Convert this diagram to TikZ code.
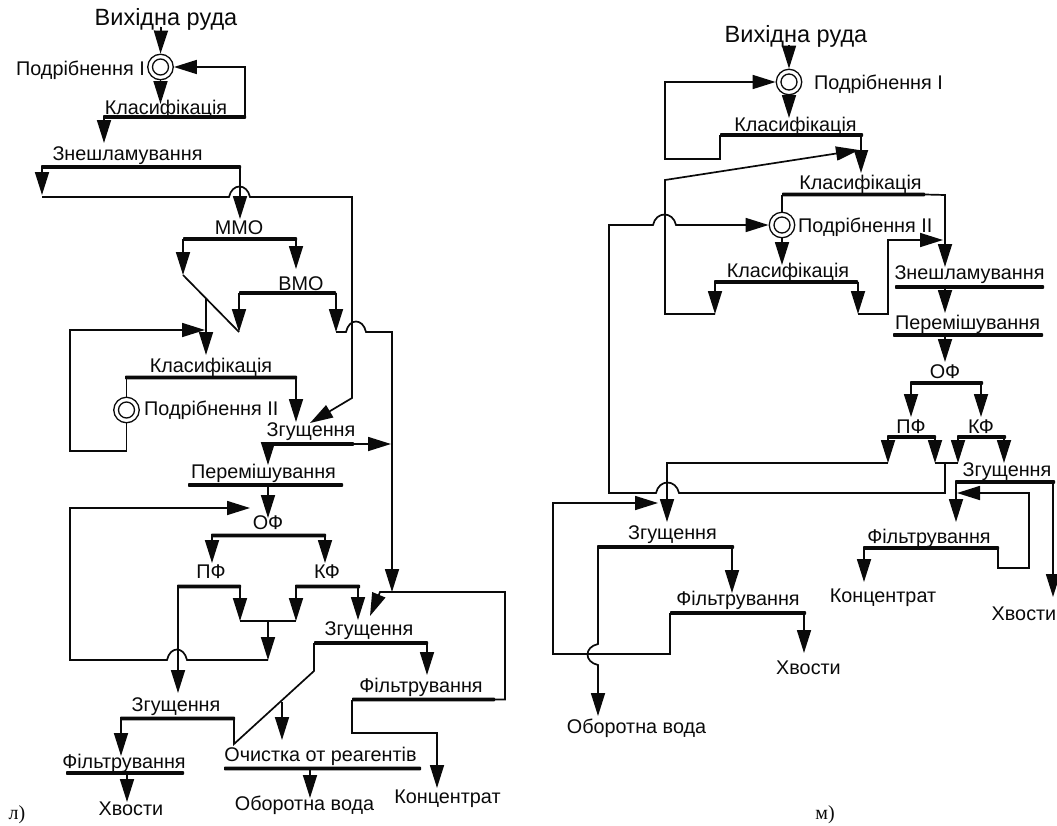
\documentclass[tikz,border=0pt]{standalone}
\usepackage{fontspec}
\setmainfont{Liberation Sans}
\newfontfamily\serifcyr{Liberation Serif}
\usetikzlibrary{arrows.meta}
\definecolor{ink}{HTML}{0A0A0A}
\tikzset{
  lab/.style={anchor=mid,inner sep=0pt,yshift=-4pt,text=ink,font=\fontsize{19.8}{22}\selectfont},
  ttl/.style={lab,font=\fontsize{23.5}{26}\selectfont},
  ser/.style={anchor=mid,inner sep=0pt,yshift=-4pt,text=ink,font=\serifcyr\fontsize{20}{22}\selectfont},
  barbox/.style={rectangle,fill=ink,inner sep=0pt,minimum height=3.8pt,rounded corners=0.8pt},
  wire/.style={draw=ink,line width=1.7pt},
  arr/.style={wire,-{Triangle[length=23pt,width=14pt]}},
  mill/.style={circle,draw=ink,line width=1.3pt,fill=white,inner sep=0pt,minimum size=25.5pt,
    path picture={\draw[ink,line width=1.3pt] (path picture bounding box.center) circle[radius=8pt];}},
}
\newcommand{\barn}[4]{\node[barbox,minimum width={(#3-(#2))*1pt}] (#1) at ({(#2+#3)/2},#4) {};}
\newcommand{\pt}[3]{\coordinate (#1) at (#2,#3);}
\newcommand{\hop}{.. controls +(3,-14) and +(-3,-14) ..}
\begin{document}
\begin{tikzpicture}[x=1pt,y=-1pt]
\useasboundingbox (0,0) rectangle (1057,825);
% ---------- left scheme ----------
\node[ttl] (lT) at (166,19) {Вихідна руда};
\node[mill] (lM1) at (160.5,67) {};
\node[lab,anchor=mid east] (lM1t) at (145,69) {Подрібнення I};
\node[lab] (lK1t) at (166,108) {Класифікація};
\barn{lK1}{103}{246}{117}
\node[lab] (lZt) at (127.5,154) {Знешламування};
\barn{lZ}{41}{241}{167}
\node[lab] (lMMt) at (239,228) {ММО};
\barn{lMM}{183}{297}{239}
\node[lab] (lVMt) at (301,284) {ВМО};
\barn{lVM}{239}{336}{293}
\node[lab] (lK2t) at (211,366) {Класифікація};
\barn{lK2}{125}{297}{377.5}
\node[mill] (lM2) at (126.5,410) {};
\node[lab,anchor=mid west] (lM2t) at (144,409) {Подрібнення II};
\node[lab] (lG1t) at (311,430) {Згущення};
\barn{lG1}{267}{354}{444}
\node[lab] (lPt) at (263.5,472) {Перемішування};
\barn{lP}{188}{343}{485}
\node[lab] (lOt) at (268,523) {ОФ};
\barn{lO}{211}{326}{535.5}
\node[lab] (lPFt) at (211,572) {ПФ};
\barn{lPF}{177}{241}{586.5}
\node[lab] (lKFt) at (327,572) {КФ};
\barn{lKF}{295}{360}{586.5}
\node[lab] (lG2t) at (369,629) {Згущення};
\barn{lG2}{314}{428}{643}
\node[lab] (lF1t) at (421,686) {Фільтрування};
\barn{lF1}{352}{495}{699.5}
\node[lab] (lG3t) at (176,705) {Згущення};
\barn{lG3}{120}{235}{718.5}
\node[lab] (lF2t) at (124,762) {Фільтрування};
\barn{lF2}{66}{184}{773}
\node[lab] (lOCt) at (320.5,755) {Очистка от реагентів};
\barn{lOC}{224}{421}{768.5}
\node[lab] (lHv) at (131,809) {Хвости};
\node[lab] (lOB) at (304.5,804) {Оборотна вода};
\node[lab] (lKN) at (447.5,797) {Концентрат};
\node[ser] (lL) at (17,813) {л)};
% points
\pt{a1}{161}{27}\pt{a2}{161}{53}
\draw[arr] (a1) -- (lM1.north);
\draw[arr] (lM1.south) -- (lM1.south |- 0,104);
\pt{a3}{245}{67}
\draw[arr] (a3 |- lK1) -- (a3) -- (lM1.east);
\pt{a4}{104}{143}
\draw[arr] (a4 |- lK1) -- (a4);
\pt{a5}{42}{195}\pt{a6}{240}{219}
\draw[arr] (a5 |- lZ) -- (a5);
\draw[arr] (a6 |- lZ) -- (a6);
\pt{b1}{42}{197}\pt{b2}{229}{197}\pt{b3}{250}{197}\pt{b4}{352}{197}\pt{b5}{352}{398}\pt{b6}{310}{423}
\draw[arr] (b1) -- (b2) \hop (b3) -- (b4) -- (b5) -- (b6);
\pt{c1}{183}{275}\pt{c2}{296}{269}\pt{c3}{239}{332}\pt{c4}{206}{298}\pt{c5}{206}{355}
\draw[arr] (c1 |- lMM) -- (c1);
\draw[arr] (c2 |- lMM) -- (c2);
\draw[wire] (c1) -- (c3);
\draw[arr] (c4) -- (c5);
\draw[arr] (c3 |- lVM) -- (c3);
\pt{d1}{336}{332}\pt{d2}{346}{332}\pt{d3}{366}{332}\pt{d4}{392}{332}\pt{d5}{392}{592}
\draw[arr] (d1 |- lVM) -- (d1);
\draw[arr] (d1) -- (d2) \hop (d3) -- (d4) -- (d5);
\pt{e1}{70}{330}\pt{e2}{205}{330}\pt{e3}{70}{451}\pt{e4}{126.5}{451}
\draw[arr] (lM2.south) -- (e4) -- (e3) -- (e1) -- (e2);
\draw[wire] (lM2.north |- lK2) -- (lM2.north);
\pt{e5}{296}{422}
\draw[arr] (e5 |- lK2) -- (e5);
\pt{f1}{391}{444}\pt{f2}{268}{465}
\draw[arr] (lG1.east) -- (f1);
\draw[arr] (f2 |- lG1) -- (f2);
\pt{f3}{268}{518}
\draw[arr] (f3 |- lP) -- (f3);
\pt{g1}{250}{508}\pt{g2}{70}{508}\pt{g3}{70}{660}\pt{g4}{167}{660}\pt{g5}{187}{660}\pt{g6}{268}{660}\pt{g7}{268}{621}
\draw[arr] (g6) -- (g5) .. controls +(-3,-14) and +(3,-14) .. (g4) -- (g3) -- (g2) -- (g1);
\draw[arr] (g7) -- (g6);
\pt{h1}{212}{563}\pt{h2}{325}{563}
\draw[arr] (h1 |- lO) -- (h1);
\draw[arr] (h2 |- lO) -- (h2);
\pt{i1}{240}{621}\pt{i2}{296}{621}\pt{i3}{358}{620}\pt{i4}{178}{693}
\draw[arr] (i1 |- lPF) -- (i1);
\draw[arr] (i2 |- lKF) -- (i2);
\draw[arr] (i3 |- lKF) -- (i3);
\draw[arr] (i4 |- lPF) -- (i4);
\draw[wire] (i1) -- (i2);
\pt{j1}{505}{699.5}\pt{j2}{505}{592}\pt{j3}{380}{592}\pt{j4}{370}{616}
\draw[arr] (lF1.east) -- (j1) -- (j2) -- (j3) -- (j4);
\pt{k1}{427}{675}
\draw[arr] (k1 |- lG2) -- (k1);
\pt{m1}{314}{671}\pt{m2}{234}{744}\pt{m3}{282}{702}\pt{m4}{282}{740}
\draw[wire] (m1 |- lG2) -- (m1) -- (m2) -- (m2 |- lG3);
\draw[arr] (m3) -- (m4);
\pt{n1}{352}{733}\pt{n2}{437}{733}\pt{n3}{437}{788}
\draw[arr] (n1 |- lF1) -- (n1) -- (n2) -- (n3);
\pt{o1}{121}{756}\pt{o2}{127}{802}\pt{o3}{310}{798}
\draw[arr] (o1 |- lG3) -- (o1);
\draw[arr] (o2 |- lF2) -- (o2);
\draw[arr] (o3 |- lOC) -- (o3);
% ---------- right scheme ----------
\node[ttl] (rT) at (796,36) {Вихідна руда};
\node[mill] (rM1) at (789,82) {};
\node[lab,anchor=mid west] (rM1t) at (814,83) {Подрібнення I};
\node[lab] (rK1t) at (795.5,125) {Класифікація};
\barn{rK1}{720}{863}{135}
\node[lab] (rK2t) at (860.5,183) {Класифікація};
\barn{rK2}{782}{925}{194.5}
\node[mill] (rM2) at (782,225) {};
\node[lab,anchor=mid west] (rM2t) at (798,226) {Подрібнення II};
\node[lab] (rK3t) at (788,271) {Класифікація};
\barn{rK3}{714}{858}{282}
\node[lab] (rZt) at (969.5,273) {Знешламування};
\barn{rZ}{895}{1044}{287}
\node[lab] (rPt) at (967.5,323) {Перемішування};
\barn{rP}{893}{1043}{335}
\node[lab] (rOt) at (945,372) {ОФ};
\barn{rO}{910}{983}{383}
\node[lab] (rPFt) at (911,427) {ПФ};
\barn{rPF}{887}{936}{437}
\node[lab] (rKFt) at (981,427) {КФ};
\barn{rKF}{957}{1006}{437}
\node[lab] (rG1t) at (1007,470) {Згущення};
\barn{rG1}{955}{1055}{482}
\node[lab] (rF1t) at (929,537) {Фільтрування};
\barn{rF1}{863}{999}{548}
\node[lab] (rKN) at (883,596) {Концентрат};
\node[lab] (rHv1) at (1024,614) {Хвости};
\node[lab] (rG2t) at (672.5,533) {Згущення};
\barn{rG2}{597}{734}{547}
\node[lab] (rF2t) at (738,599) {Фільтрування};
\barn{rF2}{670}{806}{613}
\node[lab] (rHv2) at (808.5,668) {Хвости};
\node[lab] (rOB) at (636.5,727) {Оборотна вода};
\node[ser] (rL) at (825,813) {м)};
% points
\pt{p1}{789}{45}
\draw[arr] (p1) -- (rM1.north);
\draw[arr] (rM1.south) -- (rM1.south |- 0,118);
\pt{q1}{720}{159}\pt{q2}{665}{159}\pt{q3}{665}{82}
\draw[arr] (q1 |- rK1) -- (q1) -- (q2) -- (q3) -- (rM1.west);
\pt{r1}{861}{173}
\draw[arr] (r1 |- rK1) -- (r1);
\pt{s1}{715}{314}\pt{s2}{665}{314}\pt{s3}{665}{180}\pt{s4}{859}{150}
\draw[arr] (s1) -- (s2) -- (s3) -- (s4);
\draw[arr] (s1 |- rK3) -- (s1);
\pt{u1}{945}{195}\pt{u2}{945}{267}
\draw[arr] (rK2.east) -- (u1) -- (u2);
\draw[wire] (rM2.north |- rK2) -- (rM2.north);
\draw[arr] (rM2.south) -- (rM2.south |- 0,265);
\pt{v1}{858}{314}\pt{v2}{888}{314}\pt{v3}{888}{240}\pt{v4}{943}{240}
\draw[arr] (v1 |- rK3) -- (v1);
\draw[arr] (v1) -- (v2) -- (v3) -- (v4);
\pt{w1}{945}{313}\pt{w2}{945}{362}
\draw[arr] (w1 |- rZ) -- (w1);
\draw[arr] (w2 |- rP) -- (w2);
\pt{x1}{911}{417}\pt{x2}{981}{417}
\draw[arr] (x1 |- rO) -- (x1);
\draw[arr] (x2 |- rO) -- (x2);
\pt{y1}{888}{463}\pt{y2}{935}{463}\pt{y3}{958}{463}\pt{y4}{1004}{463}
\draw[arr] (y1 |- rPF) -- (y1);
\draw[arr] (y2 |- rPF) -- (y2);
\draw[arr] (y3 |- rKF) -- (y3);
\draw[arr] (y4 |- rKF) -- (y4);
\draw[wire] (y2) -- (y3);
\pt{z1}{667}{463}\pt{z2}{667}{522}
\draw[arr] (y1) -- (z1) -- (z2);
\pt{A1}{945}{463}\pt{A2}{945}{493}\pt{A3}{679}{493}\pt{A4}{656}{493}\pt{A5}{609}{493}\pt{A6}{609}{225}\pt{A7}{653}{225}\pt{A8}{676}{225}
\draw[arr] (A1) -- (A2) -- (A3) .. controls +(-3,-14) and +(3,-14) .. (A4) -- (A5) -- (A6) -- (A7) \hop (A8) -- (rM2.west);
\pt{B1}{1053}{597}\pt{B2}{956}{522}
\draw[arr] (B1 |- rG1) -- (B1);
\draw[arr] (B2 |- rG1) -- (B2);
\pt{C1}{998}{568}\pt{C2}{1029}{568}\pt{C3}{1029}{493}\pt{C4}{957}{493}
\draw[arr] (C1 |- rF1) -- (C1) -- (C2) -- (C3) -- (C4);
\pt{D1}{864}{582}
\draw[arr] (D1 |- rF1) -- (D1);
\pt{E1}{732}{593}\pt{E2}{804}{653}
\draw[arr] (E1 |- rG2) -- (E1);
\draw[arr] (E2 |- rF2) -- (E2);
\pt{F1}{670}{654}\pt{F2}{553}{654}\pt{F3}{553}{503}\pt{F4}{658}{503}
\draw[arr] (F1 |- rF2) -- (F1) -- (F2) -- (F3) -- (F4);
\pt{G1}{598}{644}\pt{G2}{598}{665}\pt{G3}{598}{716}
\draw[arr] (G1 |- rG2) -- (G1) .. controls +(-14,3) and +(-14,-3) .. (G2) -- (G3);
\end{tikzpicture}
\end{document}
